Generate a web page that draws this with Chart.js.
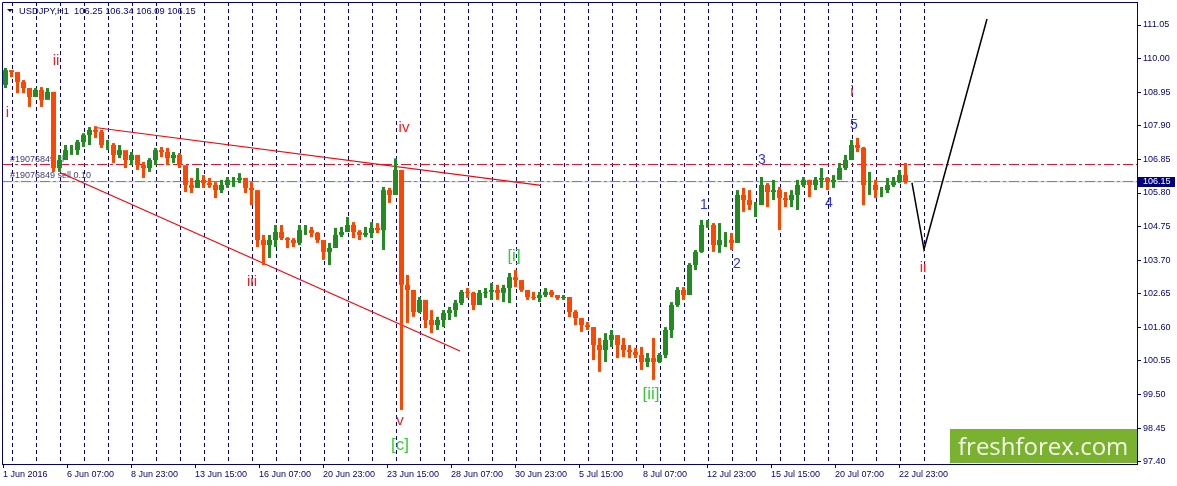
<!DOCTYPE html>
<html><head><meta charset="utf-8">
<script src="https://cdn.jsdelivr.net/npm/chart.js@4/dist/chart.umd.min.js"></script>
<style>html,body{margin:0;padding:0;background:#fff;overflow:hidden}</style>
</head><body><canvas id="c" width="1177" height="486"></canvas>
<script>
// ---------- DATA ----------
const symbolTitle = 'USDJPY,H1';
const lastOHLC = [106.25, 106.34, 106.09, 106.15];
const BARS_PER_CANDLE = 6;          // each drawn candle groups 6 hourly bars
const firstOpen = 109.18;
const highs = [109.71,109.64,109.55,109.33,109.08,109.08,109.11,109.08,108.96,106.99,
107.30,107.30,107.46,107.67,107.86,107.89,107.77,107.46,107.36,107.30,
107.08,107.08,106.99,106.77,106.89,107.21,107.24,107.21,107.08,107.05,
106.58,106.27,106.58,106.36,106.27,106.14,106.21,106.30,106.30,106.42,
106.21,106.14,105.80,104.49,104.49,104.80,104.80,104.42,104.39,104.80,
104.80,104.74,104.58,104.11,104.24,104.71,104.74,105.05,104.89,104.64,
104.74,104.89,104.86,105.99,105.96,106.88,106.52,103.24,102.77,102.55,
102.36,102.14,101.93,102.14,102.24,102.46,102.77,102.83,102.71,102.77,
102.83,102.99,102.93,102.93,103.30,103.39,103.02,102.71,102.71,102.71,
102.83,102.77,102.61,102.61,102.55,102.14,101.89,101.77,101.61,101.27,
101.42,101.52,101.30,101.27,101.05,100.96,100.99,100.80,101.27,100.80,
101.61,102.39,102.86,102.86,103.61,104.02,104.96,104.96,104.86,104.86,
104.58,104.55,105.89,105.96,105.89,105.52,106.30,106.11,106.21,105.99,
105.83,105.89,106.21,106.30,106.21,106.30,106.58,106.30,106.36,106.74,
106.99,107.46,107.52,107.24,106.46,106.21,105.99,106.27,106.30,106.52,
106.74];
const lows = [109.08,109.42,108.92,108.92,108.49,108.80,108.49,108.77,106.46,106.46,
106.89,106.99,106.99,107.24,107.30,107.52,107.21,107.14,106.74,106.89,
106.58,106.67,106.52,106.27,106.46,106.67,106.92,106.67,106.74,106.58,
105.83,105.80,105.96,105.96,105.96,105.64,105.80,105.96,105.99,106.11,
105.80,105.42,104.11,103.55,103.77,104.11,104.33,104.08,104.11,104.17,
104.49,104.42,104.24,103.71,103.55,104.24,104.42,104.58,104.39,104.33,
104.42,104.39,104.55,104.02,105.49,105.74,99.02,101.74,101.93,102.05,
101.58,101.42,101.52,101.61,101.83,101.93,102.30,102.52,102.14,102.39,
102.52,102.46,102.46,102.39,102.36,102.86,102.71,102.46,102.46,102.39,
102.55,102.55,102.46,102.46,101.92,101.67,101.46,101.52,100.58,100.21,
100.52,100.99,100.64,100.67,100.64,100.64,100.27,100.36,99.96,100.49,
100.64,101.27,102.24,102.46,102.83,103.39,103.93,104.71,103.96,103.93,
104.11,104.02,104.24,105.21,105.27,105.05,105.49,105.36,105.58,104.64,
105.36,105.36,105.27,105.99,105.67,105.89,105.96,105.89,105.96,106.30,
106.52,106.83,107.08,105.42,105.74,105.64,105.67,105.80,105.99,106.11,
106.09];
const closes = [109.64,109.58,109.27,109.08,108.80,109.02,108.71,108.96,106.58,106.83,
107.14,107.14,107.39,107.61,107.77,107.71,107.30,107.30,106.99,107.14,
106.83,106.99,106.67,106.58,106.83,107.14,107.08,106.89,106.99,106.67,
106.05,105.96,106.21,106.11,106.05,105.89,106.05,106.21,106.21,106.27,
105.96,105.89,104.33,104.17,104.33,104.58,104.39,104.33,104.24,104.64,
104.64,104.55,104.33,103.96,104.08,104.49,104.58,104.80,104.58,104.49,
104.55,104.71,104.64,105.89,105.74,106.52,102.93,102.77,102.08,102.46,
101.83,101.67,101.83,102.05,102.14,102.36,102.71,102.68,102.30,102.68,
102.71,102.77,102.68,102.83,103.17,103.08,102.77,102.55,102.52,102.61,
102.71,102.61,102.52,102.55,102.08,101.89,101.67,101.61,101.05,100.89,
101.21,101.36,101.05,100.89,100.83,100.74,100.52,100.64,100.52,100.74,
101.52,102.30,102.77,102.61,103.55,103.96,104.80,104.80,104.17,104.33,
104.33,104.24,105.74,105.58,105.42,105.42,106.05,105.83,105.89,105.64,
105.58,105.74,106.05,106.21,106.05,106.21,106.27,106.14,106.21,106.58,
106.83,107.30,107.21,106.05,106.05,105.89,105.89,106.05,106.14,106.36,
106.15];

// x axis: hourly bar index counted from 1 Jun 2016 15:00
const xTickBars = [0,64,128,192,256,320,384,448,512,576,640,704,768,832,896];
const xTickLabels = ['1 Jun 2016','6 Jun 07:00','8 Jun 23:00','13 Jun 15:00','16 Jun 07:00','20 Jun 23:00','23 Jun 15:00','28 Jun 07:00','30 Jun 23:00','5 Jul 15:00','8 Jul 07:00','12 Jul 23:00','15 Jul 15:00','20 Jul 07:00','22 Jul 23:00'];
const dayStartBar = 9.5, barsPerDay = 24, dayCount = 39;   // period separators
const yTicks = [97.40,98.45,99.50,100.55,101.60,102.65,103.70,104.75,105.80,106.85,107.90,108.95,110.00,111.05];
const X_MIN = -1, X_MAX = 1134, Y_MIN = 97.331, Y_MAX = 111.769;

// objects
const upperTrendBars = [94, 538],  upperTrendPrices = [107.84, 106.04];
const lowerTrendBars = [57, 457],  lowerTrendPrices = [106.44, 100.86];
const projBars = [909, 921, 984],  projPrices = [106.12, 104.04, 111.24];
const slPrice = 106.69, sellPrice = 106.16, bidPrice = 106.15;
const orderLabels = ['#19076849 sl', '#19076849 sell 0.10'];
const waveTexts  = ['i','ii','iii','iv','v','[c]','[i]','[ii]','1','2','3','4','5','i','ii'];
const waveBars   = [4.5,53,249,401,397,397,511,648,701,734,759,826,851,849,920];
const wavePrices = [108.30,109.92,103.02,107.83,98.67,97.92,103.83,99.52,105.42,103.58,106.83,105.49,107.92,108.96,103.46];
const waveKinds  = ['r','r','r','r','r','g','g','g','b','b','b','b','b','r','r'];
const brandText = 'freshforex.com';

// ---------- BUILD ----------
const NAVY = '#000080';
const UP = '#228b22', DOWN = '#ff4500';
const opens = closes.map((c, i) => i === 0 ? firstOpen : closes[i - 1]);
const centers = closes.map((_, i) => i * BARS_PER_CANDLE + (BARS_PER_CANDLE - 1) / 2);
const candleColor = closes.map((c, i) => c >= opens[i] ? UP : DOWN);
const sepBars = Array.from({length: dayCount}, (_, k) => dayStartBar + k * barsPerDay);
const pts = (xs, ys) => xs.map((x, i) => ({x, y: ys[i]}));

const overlay = {
  id: 'overlay',
  beforeDatasetsDraw(chart) {
    const {ctx, scales: {x, y}} = chart;
    ctx.save();
    ctx.font = '9px "Liberation Sans", Arial, sans-serif';
    ctx.fillStyle = '#3c3c88';
    ctx.textBaseline = 'bottom';
    ctx.textAlign = 'left';
    ctx.fillText(orderLabels[0], x.getPixelForValue(7), y.getPixelForValue(slPrice) - 1);
    ctx.fillText(orderLabels[1], x.getPixelForValue(7), y.getPixelForValue(sellPrice) - 1);
    ctx.restore();
  },
  afterDraw(chart) {
    const {ctx, chartArea: a, scales: {x, y}} = chart;
    ctx.save();
    // frame (left / top)
    ctx.strokeStyle = NAVY; ctx.lineWidth = 1;
    ctx.beginPath();
    ctx.moveTo(a.left + 0.5, a.bottom); ctx.lineTo(a.left + 0.5, a.top + 0.5); ctx.lineTo(a.right, a.top + 0.5);
    ctx.stroke();
    // title
    ctx.fillStyle = NAVY;
    ctx.beginPath(); ctx.moveTo(a.left + 5, a.top + 7); ctx.lineTo(a.left + 11, a.top + 7); ctx.lineTo(a.left + 8, a.top + 10); ctx.closePath(); ctx.fill();
    ctx.font = '9.3px "Liberation Sans", Arial, sans-serif';
    ctx.textBaseline = 'middle'; ctx.textAlign = 'left';
    ctx.fillText(symbolTitle + '  ' + lastOHLC.map(v => v.toFixed(2)).join(' '), a.left + 17, a.top + 9);
    // wave labels
    const kinds = {r: ['#ff1a1a', 15], g: ['#33cc33', 17], b: ['#2e2eff', 14]};
    ctx.textAlign = 'center'; ctx.textBaseline = 'middle';
    waveTexts.forEach((t, i) => {
      const [col, sz] = kinds[waveKinds[i]];
      ctx.fillStyle = col;
      ctx.font = sz + 'px "Liberation Sans", Arial, sans-serif';
      ctx.fillText(t, x.getPixelForValue(waveBars[i]), y.getPixelForValue(wavePrices[i]));
    });
    // brand box
    ctx.fillStyle = '#7ab230';
    ctx.fillRect(a.right - 187, a.bottom - 35, 187, 34);
    ctx.fillStyle = '#f4f9ec';
    ctx.font = '24px "Open Sans", sans-serif';
    ctx.textAlign = 'left'; ctx.textBaseline = 'alphabetic';
    ctx.fillText(brandText, a.right - 179, a.bottom - 9);
    // current price tag
    const py = Math.round(y.getPixelForValue(bidPrice));
    ctx.fillStyle = NAVY;
    ctx.fillRect(a.right + 1, py - 5, 37, 10);
    ctx.fillStyle = '#ffffff';
    ctx.font = '9px "Liberation Sans", Arial, sans-serif';
    ctx.textBaseline = 'middle';
    ctx.fillText(bidPrice.toFixed(2), a.right + 6, py);
    ctx.restore();
  }
};

new Chart(document.getElementById('c'), {
  type: 'bar',
  data: {
    datasets: [
      {label: 'body', data: centers.map((c, i) => ({x: c, y: [opens[i], closes[i]]})),
       backgroundColor: candleColor, barThickness: 5, grouped: false, inflateAmount: 0, order: 0, xAxisID: 'x', yAxisID: 'y'},
      {label: 'wick', data: centers.map((c, i) => ({x: c, y: [lows[i], highs[i]]})),
       backgroundColor: candleColor, barThickness: 3, grouped: false, inflateAmount: 0, order: 1, xAxisID: 'x', yAxisID: 'y'},
      {type: 'line', label: 'upper', data: pts(upperTrendBars, upperTrendPrices), borderColor: '#ff0000', borderWidth: 1.2, pointRadius: 0, order: 3, xAxisID: 'x', yAxisID: 'y'},
      {type: 'line', label: 'lower', data: pts(lowerTrendBars, lowerTrendPrices), borderColor: '#ff0000', borderWidth: 1.2, pointRadius: 0, order: 3, xAxisID: 'x', yAxisID: 'y'},
      {type: 'line', label: 'proj', data: pts(projBars, projPrices), borderColor: '#000000', borderWidth: 1.5, pointRadius: 0, order: 2, xAxisID: 'x', yAxisID: 'y'},
      {type: 'line', label: 'sl', data: pts([X_MIN, X_MAX], [slPrice, slPrice]), borderColor: '#e8102c', borderWidth: 1, borderDash: [10, 3, 3, 3], pointRadius: 0, order: 5, xAxisID: 'x', yAxisID: 'y'},
      {type: 'line', label: 'bid', data: pts([X_MIN, X_MAX], [bidPrice, bidPrice]), borderColor: '#c8c8c8', borderWidth: 1, pointRadius: 0, order: 6, xAxisID: 'x', yAxisID: 'y'},
      {type: 'line', label: 'sell', data: pts([X_MIN, X_MAX], [sellPrice, sellPrice]), borderColor: '#33bb33', borderWidth: 1, borderDash: [10, 3, 3, 3], pointRadius: 0, order: 5, xAxisID: 'x', yAxisID: 'y'}
    ]
  },
  options: {
    responsive: false, animation: false, devicePixelRatio: 1,
    layout: {padding: {left: 2, top: 2, right: 0, bottom: 0}},
    plugins: {legend: {display: false}, tooltip: {enabled: false}},
    scales: {
      x: {
        type: 'linear', position: 'bottom', min: X_MIN, max: X_MAX, offset: false,
        afterBuildTicks: s => { s.ticks = xTickBars.map(v => ({value: v})); },
        afterFit: s => { s.height = 22; s.paddingLeft = 0; s.paddingRight = 0; },
        ticks: {autoSkip: false, maxRotation: 0, minRotation: 0, align: 'start', padding: 1, color: NAVY,
                font: {family: '"Liberation Sans", Arial, sans-serif', size: 9},
                callback: (v, i) => xTickLabels[i]},
        grid: {drawOnChartArea: false, drawTicks: true, tickLength: 4, color: NAVY, offset: false},
        border: {display: true, color: NAVY, width: 1}
      },
      x2: {
        type: 'linear', position: 'bottom', min: X_MIN, max: X_MAX, offset: false,
        afterBuildTicks: s => { s.ticks = sepBars.map(v => ({value: v})); },
        afterFit: s => { s.height = 0; s.paddingLeft = 0; s.paddingRight = 0; },
        ticks: {display: false},
        grid: {drawOnChartArea: true, drawTicks: false, color: '#00008b', lineWidth: 1, offset: false},
        border: {display: false, dash: [4, 3]}
      },
      y: {
        type: 'linear', position: 'right', min: Y_MIN, max: Y_MAX,
        afterBuildTicks: s => { s.ticks = yTicks.map(v => ({value: v})); },
        afterFit: s => { s.width = 40; s.paddingTop = 0; s.paddingBottom = 0; },
        ticks: {color: NAVY, padding: 2, font: {family: '"Liberation Sans", Arial, sans-serif', size: 9},
                callback: v => Number(v).toFixed(2)},
        grid: {drawOnChartArea: false, drawTicks: true, tickLength: 4, color: NAVY},
        border: {display: true, color: NAVY, width: 1}
      }
    }
  },
  plugins: [overlay]
});
</script></body></html>
